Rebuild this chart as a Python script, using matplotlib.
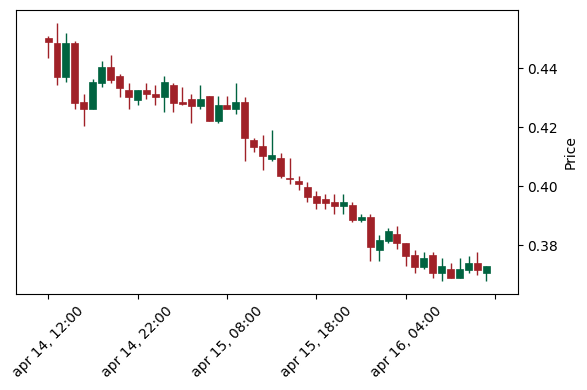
# Candlestick chart of hourly price, drawn by hand with matplotlib

import numpy as np
import pandas as pd
import matplotlib
matplotlib.use('Agg')
import matplotlib.pyplot as plt

## Data (hourly candles)

start = '2024-04-14 12:00'

opens  = [0.4503, 0.4485, 0.4371, 0.4485, 0.4284, 0.4261, 0.4349, 0.4404, 0.4373, 0.4325,
          0.4292, 0.4325, 0.4314, 0.4303, 0.4342, 0.4284, 0.4295, 0.4272, 0.4306, 0.4220,
          0.4275, 0.4263, 0.4284, 0.4156, 0.4136, 0.4092, 0.4094, 0.4028, 0.4017, 0.3998,
          0.3966, 0.3955, 0.3947, 0.3933, 0.3936, 0.3885, 0.3894, 0.3785, 0.3815, 0.3837,
          0.3806, 0.3766, 0.3727, 0.3766, 0.3706, 0.3718, 0.3687, 0.3715, 0.3738, 0.3706]
closes = [0.4489, 0.4371, 0.4485, 0.4282, 0.4261, 0.4353, 0.4404, 0.4359, 0.4333, 0.4303,
          0.4325, 0.4312, 0.4303, 0.4352, 0.4282, 0.4280, 0.4272, 0.4295, 0.4220, 0.4275,
          0.4263, 0.4284, 0.4165, 0.4133, 0.4103, 0.4105, 0.4035, 0.4025, 0.4006, 0.3964,
          0.3943, 0.3943, 0.3933, 0.3947, 0.3885, 0.3896, 0.3794, 0.3817, 0.3847, 0.3806,
          0.3763, 0.3727, 0.3755, 0.3706, 0.3729, 0.3687, 0.3718, 0.3738, 0.3715, 0.3729]
highs  = [0.4509, 0.4552, 0.4521, 0.4492, 0.4314, 0.4362, 0.4424, 0.4444, 0.4382, 0.4350,
          0.4325, 0.4350, 0.4342, 0.4373, 0.4350, 0.4335, 0.4314, 0.4342, 0.4306, 0.4305,
          0.4305, 0.4350, 0.4303, 0.4165, 0.4175, 0.4192, 0.4114, 0.4094, 0.4035, 0.4015,
          0.3984, 0.3975, 0.3975, 0.3975, 0.3945, 0.3904, 0.3904, 0.3836, 0.3857, 0.3866,
          0.3806, 0.3785, 0.3775, 0.3775, 0.3755, 0.3738, 0.3755, 0.3764, 0.3775, 0.3729]
lows   = [0.4434, 0.4342, 0.4354, 0.4263, 0.4203, 0.4261, 0.4336, 0.4349, 0.4303, 0.4263,
          0.4275, 0.4295, 0.4275, 0.4252, 0.4252, 0.4275, 0.4213, 0.4263, 0.4220, 0.4213,
          0.4263, 0.4246, 0.4086, 0.4116, 0.4054, 0.4085, 0.4026, 0.4007, 0.3986, 0.3947,
          0.3924, 0.3924, 0.3905, 0.3905, 0.3877, 0.3877, 0.3746, 0.3746, 0.3806, 0.3786,
          0.3729, 0.3707, 0.3718, 0.3687, 0.3678, 0.3687, 0.3687, 0.3707, 0.3698, 0.3678]

opens  = np.array(opens)
closes = np.array(closes)
highs  = np.array(highs)
lows   = np.array(lows)
n      = len(opens)
times  = pd.date_range(start, periods=n, freq='h')

# colours (green up, red down)
col_up   = '#006340'
col_down = '#A02128'

## Plotting

fig = plt.figure(figsize=(5.87, 3.90), dpi=100)
ax  = fig.add_axes([0.027, 0.246, 0.855, 0.728])

x      = np.arange(n)
up     = closes >= opens
colors = np.where(up, col_up, col_down)

# wicks
ax.vlines(x, lows, highs, colors=colors, linewidth=1.0, zorder=1)

# bodies
bottom = np.minimum(opens, closes)
height = np.abs(closes - opens)
height = np.maximum(height, 0.0003)   # dojis still show a thin body
ax.bar(x, height, bottom=bottom, width=0.78, color=colors, edgecolor=colors,
       linewidth=0.5, zorder=2)

ax.set_xlim(-3.6, 52.5)
ax.set_ylim(0.3634, 0.4597)

# x ticks every 10 candles, the last one is past the data
tick_pos = np.arange(0, n + 1, 10)
tick_lab = []
for p in tick_pos:
    if p < n:
        t = times[p]
        tick_lab.append(f"{t:%b} {t.day}, {t:%H:%M}".lower())
    else:
        tick_lab.append('')
ax.set_xticks(tick_pos)
ax.set_xticklabels(tick_lab, rotation=45)

ax.yaxis.tick_right()
ax.yaxis.set_label_position('right')
ax.set_yticks([0.38, 0.40, 0.42, 0.44])
ax.set_yticklabels(['0.38', '0.40', '0.42', '0.44'])
ax.set_ylabel('Price')

fig.savefig('out.png', dpi=100)
